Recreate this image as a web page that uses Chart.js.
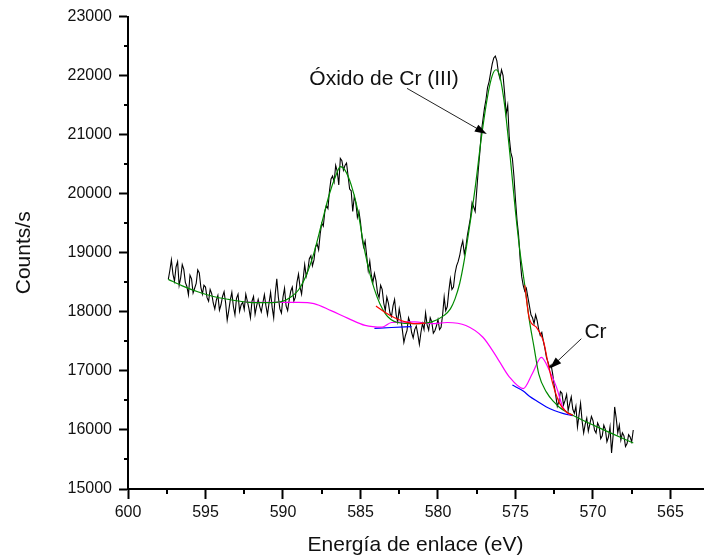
<!DOCTYPE html>
<html>
<head>
<meta charset="utf-8">
<script src="https://cdn.jsdelivr.net/npm/chart.js@4.4.1/dist/chart.umd.min.js"></script>
<style>
  html, body { margin: 0; padding: 0; background: #fff; }
  #wrap { width: 706px; height: 560px; }
</style>
</head>
<body>
<div id="wrap"><canvas id="myChart" width="706" height="560"></canvas></div>
<script>
// measured scan, 0.1 eV steps going down from 597.4 eV
var scanStart = 597.4;
var scanStep = 0.1;
var counts = [
  18550, 18700, 18880, 18640, 18520, 18760, 18850, 18450, 18580, 18800,
  18720, 18500, 18430, 18290, 18620, 18560, 18320, 18400, 18480, 18710,
  18660, 18420, 18300, 18450, 18420, 18240, 18180, 18380, 18310, 18150,
  18050, 18200, 18280, 18030, 18120, 18260, 18340, 18150, 17860, 18020,
  18200, 18330, 18090, 17950, 18230, 18300, 18010, 18120, 18160, 18040,
  18300, 18180, 18060, 17900, 18180, 18260, 17960, 18100, 18210, 18090,
  18000, 18150, 18290, 18100,
  17950, 18150, 18330, 18080, 17900, 18300, 18560, 18250, 18050, 17980,
  18250, 18400, 18100, 18020, 18200, 18350, 18420, 18180, 18250, 18500,
  18640, 18420, 18300, 18550, 18800, 18600,
  18700, 18900, 18950, 18780, 18880, 19100, 19150, 19050, 19320, 19500,
  19450, 19700, 19800, 19750, 20050, 20250, 20300, 20200, 20480, 20380,
  20150, 20600, 20560, 20400, 20480, 20520, 20300, 20080, 20050, 19700,
  19950, 19850, 19600, 19700, 19520, 19250, 19100, 19200,
  18950, 18700, 18860, 18620, 18500, 18650, 18530, 18320, 18240, 18450,
  18380, 18150, 18020, 18250, 18150, 17980, 17920, 18100, 18210, 17950,
  17830, 18050, 17900, 17700, 17480, 17600, 17680, 17900, 17820, 17650,
  17560, 17700, 17760, 17620, 17450, 17650, 17800, 17700, 17980, 17780,
  17690, 17900, 17830, 17640, 17680, 17760, 17870, 17700, 17740, 17950,
  18250, 18020, 18090, 18350, 18560, 18380, 18420, 18650, 18780, 18850,
  18950, 19100, 19200, 18980, 19100, 19300, 19450, 19600, 19850, 19780,
  19700, 20050, 20400, 20700, 21050, 21250, 21450, 21600, 21800, 21900,
  22050, 22200, 22300, 22330, 22250, 22050, 21950, 22100, 22000, 21700,
  21350, 21500, 20950, 20700, 20600, 20300, 19900, 19550, 19300, 18900,
  18600, 18450, 18350, 18400, 18250, 18100,
  17950, 17900, 17800, 17950, 17850, 17700, 17600, 17650, 17500, 17380,
  17230, 17150, 17060, 17100, 16950, 16750, 16580, 16400, 16480, 16650,
  16620, 16420, 16500, 16600, 16330, 16450, 16560, 16350, 16280, 16400,
  16050, 16250, 16450, 16150, 15950, 16100, 16200, 15980, 16100, 16230,
  16160, 16000, 15950, 16120, 16060, 15850, 15900, 16080, 16010, 15800,
  15880, 16050, 15610, 15900, 16390, 16200, 15950, 16080, 15830, 15950,
  15900, 15720, 15770, 15920, 15880, 15800, 16000
];

// fit envelope (green)
var fitE = [597.4, 596.5, 595.5, 594.5, 593.5, 592.5, 591.5, 590.5, 589.9, 589.5,
  589.0, 588.5, 588.0, 587.5, 587.0, 586.6, 586.3, 586.0, 585.6, 585.2,
  584.7, 584.1, 583.4, 582.6, 581.5, 580.4, 579.6, 579.2, 578.9, 578.6,
  578.3, 578.0, 577.6, 577.2, 576.8, 576.5, 576.25, 576.0, 575.7, 575.35,
  575.0, 574.7, 574.4, 574.1, 573.8, 573.5, 573.0, 572.5, 572.15, 571.3,
  569.8, 567.4];
var fitY = [18550, 18440, 18340, 18260, 18210, 18170, 18155, 18160, 18190, 18250,
  18370, 18620, 19000, 19500, 20000, 20300, 20460, 20400, 20150, 19750,
  19000, 18380, 17970, 17820, 17800, 17830, 17940, 18050, 18220, 18480,
  18880, 19380, 20100, 20950, 21650, 22000, 22100, 21980, 21500, 20650,
  19700, 19000, 18450, 17850, 17400, 16950, 16640, 16470, 16380, 16250,
  16060, 15780];

// background + Cr component (magenta)
var bgE = [592.5, 591.0, 589.0, 588.0, 586.9, 585.8, 584.7, 583.6, 583.0, 581.5,
  580.4, 579.4, 578.2, 577.1, 576.2, 575.4, 574.5, 573.9, 573.33, 572.8,
  572.36, 571.95, 571.5];
var bgY = [18165, 18160, 18160, 18140, 18020, 17890, 17770, 17740, 17820, 17830,
  17800, 17820, 17770, 17570, 17230, 16900, 16700, 16960, 17230, 17000,
  16730, 16390, 16260];

// baseline pieces (blue)
var baseE1 = [584.1, 583.0, 581.7];
var baseY1 = [17720, 17735, 17750];
var baseE2 = [575.2, 574.5, 574.1, 573.5, 573.0, 572.5, 571.95, 571.3];
var baseY2 = [16760, 16660, 16570, 16470, 16390, 16330, 16280, 16240];

// total fit where it leaves the envelope (red)
var sumE1 = [584.0, 583.4, 582.8, 582.1, 581.5, 580.8];
var sumY1 = [18100, 17990, 17900, 17830, 17800, 17810];
var sumE2 = [574.4, 574.1, 573.65, 573.2, 572.9, 572.6, 572.15, 571.7, 571.3];
var sumY2 = [18450, 17880, 17740, 17510, 17130, 16790, 16450, 16300, 16250];

var xMajor = [600, 595, 590, 585, 580, 575, 570, 565];
var xMinor = [597.5, 592.5, 587.5, 582.5, 577.5, 572.5, 567.5];
var yMajor = [15000, 16000, 17000, 18000, 19000, 20000, 21000, 22000, 23000];
var yMinor = [15500, 16500, 17500, 18500, 19500, 20500, 21500, 22500];

var labelText = ['Óxido de Cr (III)', 'Cr'];
var labelE = [588.3, 570.55];
var labelY = [21850, 17550];
var arrowFromE = [582.0, 570.75];
var arrowFromY = [21785, 17545];
var arrowToE = [576.85, 572.79];
var arrowToY = [21010, 17040];

var FONT = '"Liberation Sans", Arial, sans-serif';
Chart.defaults.font.family = FONT;

function pts(xs, ys) {
  var out = [];
  for (var i = 0; i < xs.length; i++) out.push({ x: xs[i], y: ys[i] });
  return out;
}

var scan = counts.map(function (c, i) {
  return { x: +(scanStart - i * scanStep).toFixed(2), y: c };
});

function fitLine(data, color) {
  return {
    data: data,
    borderColor: color,
    borderWidth: 1.2,
    pointRadius: 0,
    fill: false,
    cubicInterpolationMode: 'monotone'
  };
}

var extras = {
  id: 'extras',
  afterDraw: function (chart) {
    var ctx = chart.ctx;
    var xs = chart.scales.x, ys = chart.scales.y;
    ctx.save();
    // minor ticks
    ctx.strokeStyle = '#000';
    ctx.lineWidth = 2;
    xMinor.forEach(function (v) {
      var px = Math.round(xs.getPixelForValue(v));
      ctx.beginPath();
      ctx.moveTo(px, xs.top);
      ctx.lineTo(px, xs.top + 5);
      ctx.stroke();
    });
    yMinor.forEach(function (v) {
      var py = Math.round(ys.getPixelForValue(v));
      ctx.beginPath();
      ctx.moveTo(ys.right, py);
      ctx.lineTo(ys.right - 4, py);
      ctx.stroke();
    });
    // annotations
    ctx.font = '21px ' + FONT;
    ctx.textBaseline = 'alphabetic';
    ctx.textAlign = 'left';
    for (var i = 0; i < labelText.length; i++) {
      ctx.fillStyle = '#111';
      ctx.fillText(labelText[i], xs.getPixelForValue(labelE[i]), ys.getPixelForValue(labelY[i]));
      var x0 = xs.getPixelForValue(arrowFromE[i]), y0 = ys.getPixelForValue(arrowFromY[i]);
      var x1 = xs.getPixelForValue(arrowToE[i]), y1 = ys.getPixelForValue(arrowToY[i]);
      var a = Math.atan2(y1 - y0, x1 - x0);
      ctx.strokeStyle = '#222';
      ctx.lineWidth = 1;
      ctx.beginPath();
      ctx.moveTo(x0, y0);
      ctx.lineTo(x1 - 10 * Math.cos(a), y1 - 10 * Math.sin(a));
      ctx.stroke();
      ctx.fillStyle = '#000';
      ctx.beginPath();
      ctx.moveTo(x1, y1);
      ctx.lineTo(x1 - 12 * Math.cos(a) + 4 * Math.sin(a), y1 - 12 * Math.sin(a) - 4 * Math.cos(a));
      ctx.lineTo(x1 - 12 * Math.cos(a) - 4 * Math.sin(a), y1 - 12 * Math.sin(a) + 4 * Math.cos(a));
      ctx.closePath();
      ctx.fill();
    }
    ctx.restore();
  }
};

var canvas = document.getElementById('myChart');
new Chart(canvas, {
  type: 'line',
  data: {
    datasets: [
      fitLine(pts(sumE1, sumY1), '#ff0000'),
      fitLine(pts(sumE2, sumY2), '#ff0000'),
      fitLine(pts(fitE, fitY), '#008a00'),
      fitLine(pts(bgE, bgY), '#ff00ff'),
      fitLine(pts(baseE1, baseY1), '#0000ff'),
      fitLine(pts(baseE2, baseY2), '#0000ff'),
      {
        data: scan,
        borderColor: '#000',
        borderWidth: 1.1,
        pointRadius: 0,
        fill: false,
        tension: 0
      }
    ]
  },
  options: {
    responsive: false,
    animation: false,
    devicePixelRatio: 1,
    layout: { padding: { top: 15, right: 3, left: 0, bottom: 0 } },
    plugins: {
      legend: { display: false },
      tooltip: { enabled: false }
    },
    scales: {
      x: {
        type: 'linear',
        reverse: true,
        min: 562.9,
        max: 600,
        afterBuildTicks: function (s) { s.ticks = xMajor.map(function (v) { return { value: v }; }); },
        afterFit: function (s) { s.height = 71; },
        border: { display: true, color: '#000', width: 2 },
        grid: { display: true, drawOnChartArea: false, drawTicks: true, tickLength: 10, tickWidth: 2, tickColor: '#000' },
        ticks: {
          autoSkip: false, maxRotation: 0, padding: 4, color: '#111',
          font: { size: 16 },
          callback: function (v) { return String(v); }
        },
        title: {
          display: true, text: 'Energía de enlace (eV)', color: '#111',
          font: { size: 21 }, padding: { top: 0, bottom: 2 }
        }
      },
      y: {
        type: 'linear',
        min: 15000,
        max: 23000,
        afterBuildTicks: function (s) { s.ticks = yMajor.map(function (v) { return { value: v }; }); },
        afterFit: function (s) { s.width = 128; },
        border: { display: true, color: '#000', width: 2 },
        grid: { display: true, drawOnChartArea: false, drawTicks: true, tickLength: 9, tickWidth: 2, tickColor: '#000' },
        ticks: {
          autoSkip: false, padding: 7, color: '#111',
          font: { size: 16 },
          callback: function (v) { return String(v); }
        },
        title: {
          display: true, text: 'Counts/s', color: '#111',
          font: { size: 21 }, padding: { top: 12, bottom: 0 }
        }
      }
    }
  },
  plugins: [extras]
});
</script>
</body>
</html>
